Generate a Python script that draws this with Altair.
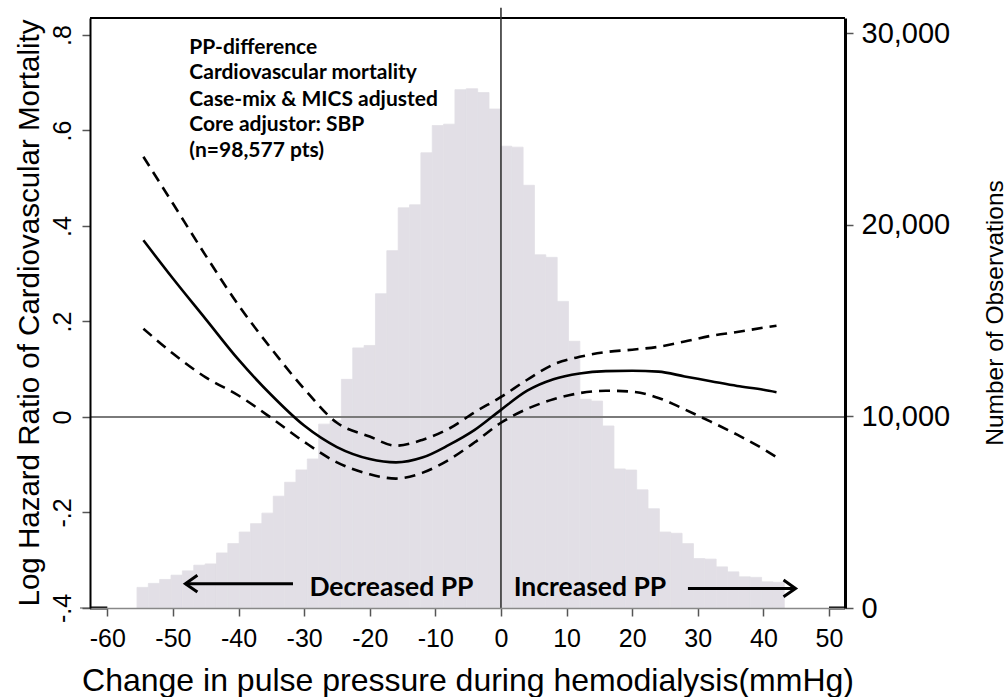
import altair as alt
import numpy as np
import pandas as pd

# ---------------- data ----------------
# histogram (right axis): counts per bin
bin_start = -55.48
bin_width = 1.731
counts = [1075, 1283, 1490, 1714, 1938, 2234, 2300, 2873, 3361, 3964,
          4400, 4951, 5834, 6561, 7205, 7777, 9595, 9770, 11932, 13574,
          13700, 16400, 18649, 20883, 21040, 23756, 25179, 25250, 27050, 27100,
          26900, 26040, 24100, 24050, 22060, 18430, 18300, 16000, 13920, 10890,
          10800, 9500, 7257, 7200, 6166, 5180, 3964, 3900, 3361, 2582,
          2550, 2146, 1886, 1626, 1600, 1366, 1340]

# spline estimate with 95% CI (left axis)
curve_x = [-54.5, -50, -45, -40, -35, -30, -25, -20, -16, -12, -8, -4,
           0, 4, 8, 12, 16, 20, 24, 28, 32, 36, 40, 42]
est = [0.37, 0.29, 0.205, 0.12, 0.046, -0.018, -0.063, -0.088, -0.095, -0.085,
       -0.059, -0.027, 0.015, 0.055, 0.079, 0.091, 0.096, 0.097, 0.095, 0.085,
       0.075, 0.065, 0.057, 0.052]
upper = [0.545, 0.447, 0.338, 0.234, 0.143, 0.059, -0.012, -0.041, -0.06, -0.048,
         -0.025, 0.01, 0.042, 0.078, 0.11, 0.126, 0.136, 0.141, 0.147, 0.158,
         0.17, 0.178, 0.187, 0.191]
lower = [0.185, 0.133, 0.083, 0.045, -0.002, -0.052, -0.095, -0.12, -0.129, -0.117,
         -0.09, -0.053, -0.012, 0.017, 0.037, 0.05, 0.055, 0.053, 0.04, 0.016,
         -0.01, -0.037, -0.067, -0.084]

x_ticks = [-60, -50, -40, -30, -20, -10, 0, 10, 20, 30, 40, 50]
yl_ticks = [-0.4, -0.2, 0, 0.2, 0.4, 0.6, 0.8]
yr_ticks = [0, 10000, 20000, 30000]

ann_lines = ["PP-difference", "Cardiovascular mortality", "Case-mix & MICS adjusted",
             "Core adjustor: SBP", "(n=98,577 pts)"]
ann_x = -47.5
ann_y = [0.761, 0.707, 0.652, 0.599, 0.544]

dir_labels = ["Decreased PP", "Increased PP"]
dir_label_x = [-29.2, 1.94]
dir_label_y = [-0.374, -0.374]
arrow_from = [-31.7, 28.5]
arrow_to = [-48.1, 44.9]
arrow_y = [-0.349, -0.359]

X_DOM = [-62.64, 52.44]
YL_DOM = [-0.4, 0.8356]
YR_DOM = [0, 30790]

FONT = "Liberation Sans"
HIST_COLOR = "#e2dfe6"

# ---------------- frames ----------------
lo = bin_start + bin_width * np.arange(len(counts))
hist_df = pd.DataFrame({"lo": lo, "hi": lo + bin_width, "count": counts, "base": 0})

curve_df = pd.concat([
    pd.DataFrame({"x": curve_x, "y": est, "s": "est"}),
    pd.DataFrame({"x": curve_x, "y": upper, "s": "upper"}),
    pd.DataFrame({"x": curve_x, "y": lower, "s": "lower"}),
])

xs = alt.Scale(domain=X_DOM, nice=False, zero=False)
yls = alt.Scale(domain=YL_DOM, nice=False, zero=False)
yrs = alt.Scale(domain=YR_DOM, nice=False, zero=False)

x_axis = alt.Axis(
    values=x_ticks, title="Change in pulse pressure during hemodialysis(mmHg)",
    labelExpr="(datum.value < 0 ? '-' : '') + abs(datum.value)",
    labelFont=FONT, titleFont=FONT, labelFontSize=25, titleFontSize=32,
    titleFontWeight="normal", labelColor="black", titleColor="black",
    tickSize=8, tickColor="#555", tickWidth=1.5, domainColor="#888", domainWidth=1.5,
    labelPadding=10, titleY=82, titleBaseline="alphabetic", grid=False,
    zindex=1, labelFlush=False, labelOverlap=False)

right_axis = alt.Axis(
    orient="right", values=yr_ticks, labelExpr="format(datum.value, ',')",
    title="Number of Observations",
    labelFont=FONT, titleFont=FONT, labelFontSize=29, titleFontSize=24.5,
    titleFontWeight="normal", labelColor="black", titleColor="black",
    tickSize=8, tickColor="#555", tickWidth=1.5, domainColor="black", domainWidth=3,
    labelPadding=8, titleAngle=270, titleX=157, titleY=294.5, titleAlign="center",
    titleBaseline="alphabetic", grid=False, labelFlush=False, labelOverlap=False,
    zindex=1)

left_axis = alt.Axis(
    orient="left", values=yl_ticks,
    labelExpr="datum.value == 0 ? '0' : (datum.value < 0 ? '-' : '') + replace(format(abs(datum.value), '.1f'), '0.', '.')",
    labelAngle=270, labelAlign="center", labelBaseline="alphabetic",
    labelFont=FONT, titleFont=FONT, labelFontSize=25, titleFontSize=29.5,
    titleFontWeight="normal", labelColor="black", titleColor="black",
    tickSize=8, tickColor="#555", tickWidth=1.5, domainColor="black", domainWidth=2,
    labelPadding=12, title="Log Hazard Ratio of Cardiovascular Mortality",
    titleAngle=270, titleX=-52, titleY=294.5, titleAlign="center",
    titleBaseline="alphabetic", grid=False, labelFlush=False, labelOverlap=False, zindex=1)


def X(field):
    return alt.X(field, scale=xs, axis=x_axis)


def YL(field):
    return alt.Y(field, scale=yls, axis=left_axis)


# histogram with right axis
hist = alt.Chart(hist_df).mark_rect(color=HIST_COLOR, stroke=HIST_COLOR, strokeWidth=0.8).encode(
    x=X("lo:Q"), x2="hi:Q",
    y=alt.Y("count:Q", scale=yrs, axis=right_axis),
    y2="base:Q",
)

hrules_df = pd.DataFrame({
    "x": [X_DOM[0], X_DOM[0], X_DOM[0], 50, -64.17],
    "x2": [X_DOM[1], X_DOM[1], -60, X_DOM[1], X_DOM[0]],
    "y": [0, YL_DOM[1], YL_DOM[0], YL_DOM[0], YL_DOM[0]],
    "c": ["#7a7a7a", "black", "black", "black", "#888"],
    "w": [2, 2, 3, 3, 1.5],
})
hrules = alt.Chart(hrules_df).mark_rule().encode(
    x=X("x:Q"), x2="x2:Q", y=YL("y:Q"),
    color=alt.Color("c:N", scale=None), strokeWidth=alt.StrokeWidth("w:Q", scale=None),
)

vrules_df = pd.DataFrame({"x": [0], "y": [YL_DOM[0]], "y2": [0.857]})
vrules = alt.Chart(vrules_df).mark_rule(color="#333", strokeWidth=1.6).encode(
    x=X("x:Q"), y=YL("y:Q"), y2="y2:Q",
)

solid = alt.Chart(curve_df[curve_df.s == "est"]).mark_line(
    color="black", strokeWidth=2.6, interpolate="monotone").encode(
    x=X("x:Q"), y=YL("y:Q"),
)
dashed = alt.Chart(curve_df[curve_df.s != "est"]).mark_line(
    color="black", strokeWidth=2.6, strokeDash=[11, 7], interpolate="monotone").encode(
    x=X("x:Q"), y=YL("y:Q"), detail="s:N",
)

ann_df = pd.DataFrame({"x": ann_x, "y": ann_y, "t": ann_lines})
ann = alt.Chart(ann_df).mark_text(
    align="left", baseline="alphabetic", font="Lato", fontWeight="bold",
    fontSize=21, color="black").encode(
    x=X("x:Q"), y=YL("y:Q"), text="t:N")

dir_df = pd.DataFrame({"x": dir_label_x, "y": dir_label_y, "t": dir_labels})
dirtext = alt.Chart(dir_df).mark_text(
    align="left", baseline="alphabetic", font="Lato", fontWeight="bold",
    fontSize=26.5, color="black").encode(
    x=X("x:Q"), y=YL("y:Q"), text="t:N")

arr_df = pd.DataFrame({"x": arrow_from, "x2": arrow_to, "y": arrow_y})
arrows = alt.Chart(arr_df).mark_rule(color="black", strokeWidth=3).encode(
    x=X("x:Q"), x2="x2:Q", y=YL("y:Q"))

head_l = alt.Chart(pd.DataFrame({"x": [arrow_to[0]], "y": [arrow_y[0]]})).mark_point(
    shape="M1,-0.7L0,0L1,0.7", size=576, filled=False, color="black",
    strokeWidth=3, opacity=1).encode(x=X("x:Q"), y=YL("y:Q"))
head_r = alt.Chart(pd.DataFrame({"x": [arrow_to[1]], "y": [arrow_y[1]]})).mark_point(
    shape="M-1,-0.7L0,0L-1,0.7", size=576, filled=False, color="black",
    strokeWidth=3, opacity=1).encode(x=X("x:Q"), y=YL("y:Q"))

left_group = alt.layer(hrules, vrules, solid, dashed, ann, dirtext, arrows, head_l, head_r)

chart = alt.layer(hist, left_group).resolve_scale(y="independent").properties(
    width=755, height=590,
    autosize=alt.AutoSizeParams(type="none"),
    padding={"left": 90, "top": 18, "right": 163, "bottom": 89},
).configure_view(stroke=None)

chart.save("out.html", embed_options={"renderer": "svg", "actions": False})
